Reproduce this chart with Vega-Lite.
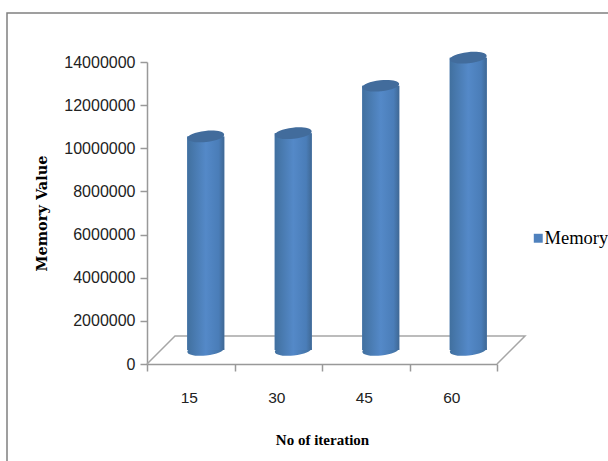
{
"$schema":"https://vega.github.io/schema/vega-lite/v6.json",
"width":350,"height":302,
"autosize":{"type":"none"},
"padding":{"left":147,"top":62,"right":111,"bottom":97},
"background":"white",
"datasets":{
"bars":[{"iteration":"15","memory":9900000,"series":"Memory"},{"iteration":"30","memory":10050000,"series":"Memory"},{"iteration":"45","memory":12250000,"series":"Memory"},{"iteration":"60","memory":13550000,"series":"Memory"}],
"floor":[{"p":0,"fx":0,"fy":0},{"p":1,"fx":0.32,"fy":1300000},{"p":2,"fx":4.32,"fy":1300000},{"p":3,"fx":4,"fy":0}],
"frame":[{"p":0,"fx":-1.6,"fy":-4500000},{"p":1,"fx":-1.6,"fy":16270000},{"p":2,"fx":5.3,"fy":16270000}]
},
"config":{"view":{"stroke":null},"font":"Liberation Sans"},
"layer":[
{"data":{"name":"frame"},"mark":{"type":"line","color":"#808080","strokeWidth":1.5,"clip":false},
"encoding":{"order":{"field":"p"},"x":{"field":"fx","type":"quantitative","scale":{"domain":[0,4],"nice":false,"zero":false},"axis":null},
"y":{"field":"fy","type":"quantitative","scale":{"domain":[0,14000000],"nice":false},"axis":{"title":"Memory Value","titleFont":"DejaVu Serif","titleFontSize":14.5,"titleFontWeight":"bold","titleColor":"black","titleX":-98,"values":[0,2000000,4000000,6000000,8000000,10000000,12000000,14000000],"format":"d","labelFont":"Liberation Sans","labelFontSize":16,"labelColor":"#222222","tickSize":7,"tickColor":"#999999","domainColor":"#999999","domainWidth":1.5,"tickWidth":1.5,"labelPadding":5,"grid":false}}}},
{"data":{"name":"floor"},"mark":{"type":"line","color":"#a6a6a6","strokeWidth":1.5,"clip":false},
"encoding":{"order":{"field":"p"},"x":{"field":"fx","type":"quantitative","scale":{"domain":[0,4],"nice":false,"zero":false},"axis":null},"y":{"field":"fy","type":"quantitative"}}},
{"data":{"name":"bars"},"mark":{"type":"point","filled":true,"opacity":1,"xOffset":15,"yOffset":-14,"shape":"M-0.995,0.105 A1,0.3,-6,1,1,0.995,-0.105 A1,0.3,-6,1,1,-0.995,0.105 Z","size":1369,"fill":{"gradient":"linear","x1":0,"y1":0,"x2":1,"y2":0,"stops":[{"offset":0,"color":"#41709f"},{"offset":0.5,"color":"#5287c8"},{"offset":1,"color":"#41709f"}]}},
"encoding":{"x":{"field":"iteration","type":"nominal","scale":{"paddingInner":0,"paddingOuter":0},"axis":null},"y":{"datum":0}}},
{"data":{"name":"bars"},"mark":{"type":"bar","width":37,"xOffset":15,"yOffset":-14,"y2Offset":-14},
"encoding":{"x":{"field":"iteration","type":"nominal","scale":{"paddingInner":0,"paddingOuter":0},
"axis":{"title":"No of iteration","titleFont":"Liberation Serif","titleFontSize":15,"titleFontWeight":"bold","titleColor":"black","titleY":68,"labelAngle":0,"labelFont":"Liberation Sans","labelFontSize":15.5,"labelColor":"#222222","labelPadding":19,"labelOffset":-2,"tickBand":"extent","tickSize":7,"tickColor":"#999999","domainColor":"#999999","domainWidth":1.5,"tickWidth":1.5}},
"y":{"field":"memory","type":"quantitative"},
"color":{"field":"series","type":"nominal","scale":{"domain":["Memory"],"range":["#4f81bd"]},"legend":{"title":null,"orient":"none","legendX":382,"legendY":167,"symbolType":"square","symbolSize":80,"labelFont":"Liberation Serif","labelFontSize":18.5,"labelColor":"black","labelLimit":200,"labelOffset":-3}}}},
{"data":{"name":"bars"},"mark":{"type":"bar","width":37,"xOffset":15,"yOffset":-14,"y2Offset":-14,"fill":{"gradient":"linear","x1":0,"y1":0,"x2":1,"y2":0,"stops":[{"offset":0,"color":"#41709f"},{"offset":0.5,"color":"#5489c8"},{"offset":0.85,"color":"#4a7db8"},{"offset":1,"color":"#3f6894"}]}},
"encoding":{"x":{"field":"iteration","type":"nominal","scale":{"paddingInner":0,"paddingOuter":0},"axis":null},"y":{"field":"memory","type":"quantitative"}}},
{"data":{"name":"bars"},"mark":{"type":"point","filled":true,"opacity":1,"xOffset":15,"yOffset":-14,"shape":"M-0.995,0.105 A1,0.3,-6,1,1,0.995,-0.105 A1,0.3,-6,1,1,-0.995,0.105 Z","size":1369,"fill":"#426c9c"},
"encoding":{"x":{"field":"iteration","type":"nominal","scale":{"paddingInner":0,"paddingOuter":0},"axis":null},"y":{"field":"memory","type":"quantitative"}}}
],
"resolve":{"scale":{"x":"independent"}}
}
